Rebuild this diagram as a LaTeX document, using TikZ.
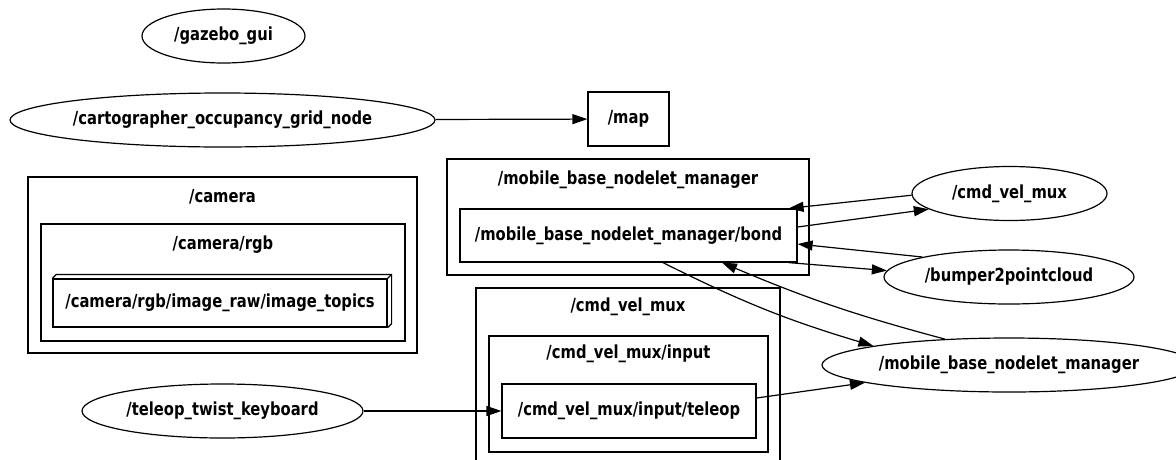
\documentclass[tikz,border=0pt]{standalone}
\usepackage{fontspec}
\setmainfont{DejaVu Sans}[FakeStretch=0.82]
\usetikzlibrary{arrows.meta, calc, positioning, shapes.geometric}

\begin{document}
\begin{tikzpicture}[x=1pt, y=-1pt, line width=1.2pt,
    font=\bfseries\fontsize{18}{20}\selectfont,
    rosnode/.style={draw, ellipse, inner sep=0pt, minimum height=54pt},
    topicbox/.style={draw, rectangle, inner sep=0pt, minimum height=54pt},
    groupbox/.style={draw, rectangle, inner sep=0pt},
    >={Triangle[length=15pt, width=10pt]}]
    % Canvas
    \useasboundingbox[fill=white] (0,0) rectangle (1176,459);
    \clip (0,0) rectangle (1176,459);

    % Draw Namespace Groups
    \node[groupbox, minimum width=389pt, minimum height=176pt] (cameragrp) at (222.5,265) {};
    \node[groupbox, minimum width=364pt, minimum height=117pt] (rgbgrp) at (223,282.5) {};
    \node[groupbox, minimum width=362pt, minimum height=116pt] (basegrp) at (628,217) {};
    \node[groupbox, minimum width=304pt, minimum height=182pt] (muxgrp) at (628,379) {};
    \node[groupbox, minimum width=279pt, minimum height=116pt] (inputgrp) at (628.5,394) {};
    \node (cameratitle) at (222.5,197) {/camera};
    \node (rgbtitle) at (223,245) {/camera/rgb};
    \node (basetitle) at (628,180) {/mobile\_base\_nodelet\_manager};
    \node (muxtitle) at (628,307) {/cmd\_vel\_mux};
    \node (inputtitle) at (628.5,354) {/cmd\_vel\_mux/input};

    % Draw Topics
    \node[topicbox, minimum width=81pt] (map) at (628.5,119) {/map};
    \node[topicbox, minimum width=337pt, minimum height=53pt] (bond) at (628.5,235.5) {/mobile\_base\_nodelet\_manager/bond};
    \node[topicbox, minimum width=254pt] (teleop) at (629,411) {/cmd\_vel\_mux/input/teleop};
    \node[topicbox, minimum width=334pt, minimum height=48pt] (topics) at (220,303) {/camera/rgb/image\_raw/image\_topics};
    \draw (topics.north west) -- ++(4,-4) -- ($(topics.north east)+(4,-4)$)
        -- ($(topics.south east)+(4,-4)$) -- (topics.south east);
    \draw (topics.north east) -- ++(4,-4);

    % Draw Nodes
    \node[rosnode, minimum width=163pt] (gazebo) at (223.5,36) {/gazebo\_gui};
    \node[rosnode, minimum width=425pt] (carto) at (222.5,120) {/cartographer\_occupancy\_grid\_node};
    \node[rosnode, minimum width=281pt] (twist) at (222.5,411) {/teleop\_twist\_keyboard};
    \node[rosnode, minimum width=195pt] (cvmx) at (1009.5,193.5) {/cmd\_vel\_mux};
    \node[rosnode, minimum width=250pt] (bumper) at (1009,277) {/bumper2pointcloud};
    \node[rosnode, minimum width=374pt] (mobile) at (1009,365) {/mobile\_base\_nodelet\_manager};

    % Draw Connections
    \draw[->] (carto) -- (map);
    \draw[->] (twist) -- (teleop);
    \draw[->] (cvmx.181) -- ($(bond.north east)+(-9,0)$);
    \draw[->] ($(bond.east)+(0,-8.5)$) -- (cvmx.191.5);
    \draw[->] (bumper.167.6) -- ($(bond.east)+(0,8.5)$);
    \draw[->] ($(bond.south east)+(-9,0)$) -- (bumper.177.7);
    \draw[->] ($(bond.south)+(34.5,0)$) to[bend right=5] (mobile.172.7);
    \draw[->] (mobile.158) to[bend left=4] ($(bond.south)+(93.5,0)$);
    \draw[->] ($(teleop.east)+(0,-13)$) -- (mobile.187);
\end{tikzpicture}
\end{document}
